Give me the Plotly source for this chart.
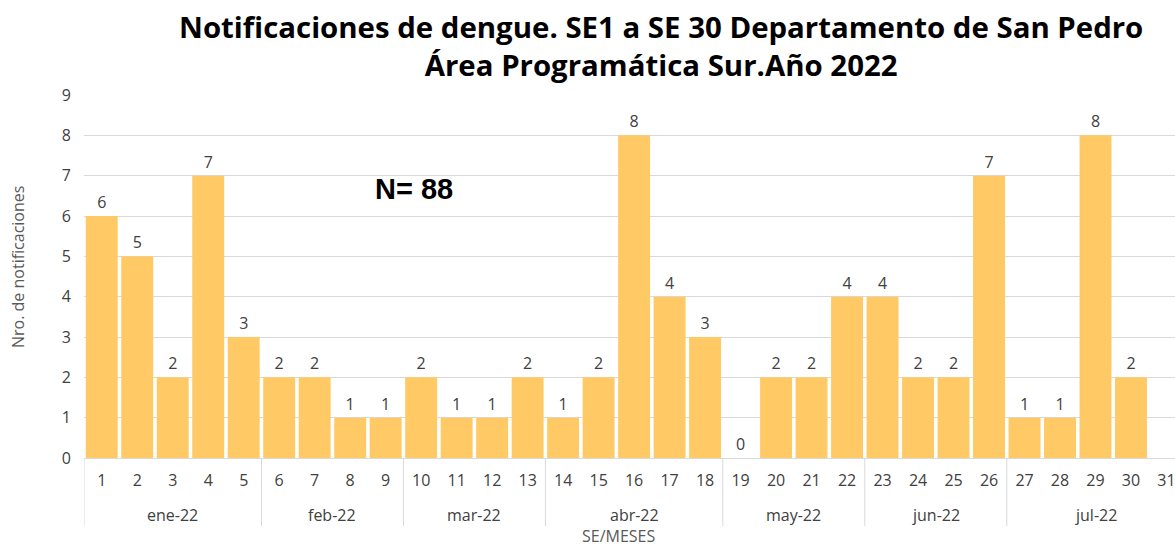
import plotly.graph_objects as go

months = ["ene-22"] * 5 + ["feb-22"] * 4 + ["mar-22"] * 4 + ["abr-22"] * 5 + ["may-22"] * 4 + ["jun-22"] * 4 + ["jul-22"] * 5
weeks = [str(i) for i in range(1, 32)]
values = [6, 5, 2, 7, 3, 2, 2, 1, 1, 2, 1, 1, 2, 1, 2, 8, 4, 3, 0, 2, 2, 4, 4, 2, 2, 7, 1, 1, 8, 2, None]
labels = ["" if v is None else str(v) for v in values]

title_text = "Notificaciones de dengue. SE1 a SE 30 Departamento de San Pedro<br>Área Programática Sur.Año 2022"
total_label = "N= 88"
y_title = "Nro. de notificaciones"
x_title = "SE/MESES"

W, H = 1175, 544
L, R, T, B = 84, 0, 95, 86
PW, PH = W - L - R, H - T - B


def px_x(p):
    return (p - L) / PW


def px_y(p):
    return (H - B - p) / PH


fig = go.Figure()
fig.add_trace(go.Bar(
    x=weeks,
    y=values,
    text=labels,
    textposition="outside",
    cliponaxis=False,
    textfont=dict(family="Open Sans", size=16, color="#404040"),
    marker=dict(color="#FFCA66", line=dict(width=0)),
))

# month groups: centers and boundaries from the months list
groups = []
start = 0
for i in range(1, len(months) + 1):
    if i == len(months) or months[i] != months[start]:
        groups.append((months[start], start, i - 1))
        start = i

annotations = []
shapes = []
for name, a, b in groups:
    annotations.append(dict(
        text=name, x=(a + b) / 2, xref="x", y=px_y(515), yref="paper",
        xanchor="center", yanchor="middle", showarrow=False,
        font=dict(family="Open Sans", size=16, color="#404040"),
    ))
    shapes.append(dict(
        type="line", xref="x", yref="paper", x0=a - 0.5, x1=a - 0.5,
        y0=0, y1=px_y(526), line=dict(color="#D9D9D9", width=1),
    ))

annotations += [
    dict(text=title_text, x=px_x(661), y=px_y(46), xref="paper", yref="paper",
         xanchor="center", yanchor="middle", showarrow=False,
         font=dict(family="Open Sans", size=29.4, color="black", weight="bold")),
    dict(text=total_label, x=px_x(414), y=px_y(189), xref="paper", yref="paper",
         xanchor="center", yanchor="middle", showarrow=False,
         font=dict(family="Liberation Sans", size=29, color="black", weight="bold")),
    dict(text=y_title, x=px_x(18), y=px_y(267), xref="paper", yref="paper",
         xanchor="center", yanchor="middle", showarrow=False, textangle=-90,
         font=dict(family="Open Sans", size=16, color="#595959")),
    dict(text=x_title, x=px_x(618), y=px_y(536), xref="paper", yref="paper",
         xanchor="center", yanchor="middle", showarrow=False,
         font=dict(family="Open Sans", size=16, color="#595959")),
]

fig.update_layout(
    width=W, height=H,
    margin=dict(l=L, r=R, t=T, b=B, autoexpand=False),
    paper_bgcolor="white", plot_bgcolor="white",
    bargap=0.1,
    showlegend=False,
    font=dict(family="Open Sans", color="#595959"),
    annotations=annotations,
    shapes=shapes,
)

fig.update_xaxes(
    type="category",
    range=[-0.5, 30.24],
    automargin=False,
    showline=True, linecolor="#D9D9D9", linewidth=1,
    showgrid=False,
    ticks="",
    ticklabelstandoff=8,
    tickfont=dict(family="Open Sans", size=16, color="#404040"),
)
fig.update_yaxes(
    range=[0, 9], dtick=1,
    automargin=False,
    showgrid=True, gridcolor="#D9D9D9", gridwidth=1,
    zeroline=False,
    tickfont=dict(family="Open Sans", size=16, color="#404040"),
    ticklabelstandoff=12,
)

fig.write_html(
    "out.html",
    config={"displayModeBar": False},
    post_script="document.body.style.margin='0';document.body.style.overflow='hidden';",
)
